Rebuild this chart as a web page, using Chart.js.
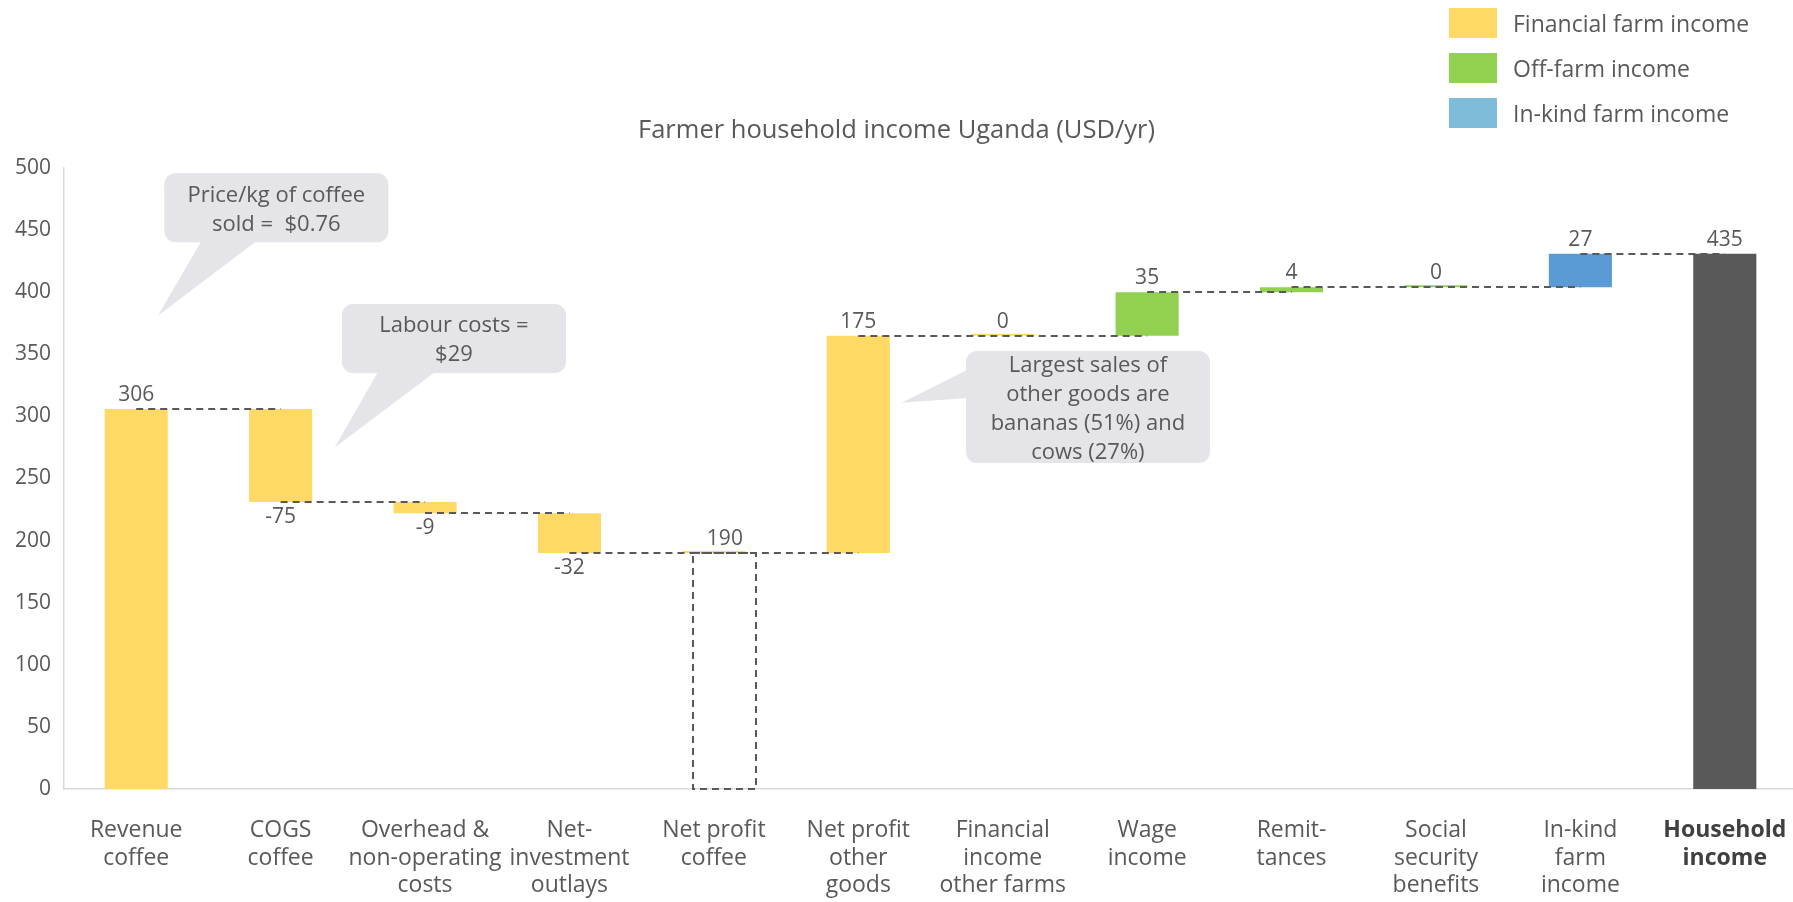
<!DOCTYPE html>
<html>
<head>
<meta charset="utf-8">
<script src="https://cdn.jsdelivr.net/npm/chart.js@4.4.1/dist/chart.umd.min.js"></script>
<style>
    html, body { margin: 0; background: #ffffff; font-family: "Open Sans", sans-serif; overflow: hidden; }
    #wrap { position: relative; width: 1793px; height: 902px; overflow: hidden; }
    #title { position: absolute; left: 0; top: 111px; width: 1793px; text-align: center; font-size: 25.5px; color: #595959; }
    #legend { position: absolute; left: 1449px; top: 8px; }
    .item { display: flex; align-items: center; height: 30px; margin-bottom: 15px; font-size: 23px; color: #595959; }
    .sw { width: 48px; height: 30px; margin-right: 16px; }
</style>
</head>
<body>
<div id="wrap">
    <canvas id="myChart" width="1797" height="902"></canvas>
    <div id="title">Farmer household income Uganda (USD/yr)</div>
    <div id="legend"></div>
</div>
<script>
// Данные графика
const categories = [
    ['Revenue', 'coffee'], ['COGS', 'coffee'], ['Overhead &', 'non-operating', 'costs'],
    ['Net-', 'investment', 'outlays'], ['Net profit', 'coffee'], ['Net profit', 'other', 'goods'],
    ['Financial', 'income', 'other farms'], ['Wage', 'income'], ['Remit-', 'tances'],
    ['Social', 'security', 'benefits'], ['In-kind', 'farm', 'income'], ['Household', 'income']
];
const values = [306, -75, -9, -32, 190, 175, 0, 35, 4, 0, 27, 435];
const barKinds = ['step', 'step', 'step', 'step', 'subtotal', 'step', 'step', 'step', 'step', 'step', 'step', 'total'];
const incomeGroups = ['financial', 'financial', 'financial', 'financial', 'financial', 'financial', 'financial',
    'offfarm', 'offfarm', 'offfarm', 'inkind', 'total'];
const groupKeys = ['financial', 'offfarm', 'inkind'];
const seriesNames = ['Financial farm income', 'Off-farm income', 'In-kind farm income'];
const yTicks = { min: 0, max: 500, step: 50 };

// Цвета
const seriesColors = ['#FFD966', '#92D050', '#5B9BD5'];
const legendColors = ['#FFD966', '#92D050', '#7FBCD9'];
const totalColor = '#595959';
const textColor = '#595959';
const subtotalShift = 11; // пунктирная рамка в оригинале немного сдвинута вправо

// Выноски: позиция в единицах осей (индекс категории, значение)
const callouts = [
    { lines: ['Price/kg of coffee', 'sold =  $0.76'], at: [0.97, 468], w: 224, h: 69,
      tail: { side: 'bottom', from: -75, to: -20, tip: [0.15, 381] } },
    { lines: ['Labour costs =', '$29'], at: [2.2, 362.7], w: 224, h: 69,
      tail: { side: 'bottom', from: -76, to: -19, tip: [1.375, 275] } },
    { lines: ['Largest sales of', 'other goods are', 'bananas (51%) and', 'cows (27%)'], at: [6.59, 307.5], w: 244, h: 112,
      tail: { side: 'left', from: -37, to: -9, tip: [5.30, 311] } }
];

// Расчёт водопада
let run = 0;
const ranges = values.map((v, i) => {
    if (barKinds[i] === 'step') {
        const r = [run, run + v];
        run += v;
        return r;
    }
    return [0, run];
});
const levels = ranges.map(r => r[1]);

const datasets = groupKeys.map((g, k) => ({
    label: seriesNames[k],
    data: ranges.map((r, i) => incomeGroups[i] !== g ? null : (barKinds[i] === 'subtotal' ? [r[1], r[1]] : r)),
    backgroundColor: seriesColors[k]
}));
datasets.push({
    label: 'Household income',
    data: ranges.map((r, i) => barKinds[i] === 'total' ? r : null),
    backgroundColor: totalColor
});
datasets.push({
    label: 'subtotal',
    data: ranges.map((r, i) => barKinds[i] === 'subtotal' ? r : null),
    backgroundColor: 'rgba(0,0,0,0)'
});
const subtotalIndex = datasets.length - 1;

// Легенда
const legend = document.getElementById('legend');
seriesNames.forEach((name, k) => {
    legend.innerHTML += `<div class="item"><div class="sw" style="background:${legendColors[k]}"></div>${name}</div>`;
});

const waterfallPlugin = {
    id: 'waterfall',
    afterDatasetsDraw(chart) {
        const ctx = chart.ctx;
        const xs = chart.scales.x;
        const ys = chart.scales.y;

        // Пунктирный контур промежуточного итога
        ctx.save();
        ctx.strokeStyle = '#595959';
        ctx.lineWidth = 2;
        ctx.setLineDash([7, 5]);
        chart.getDatasetMeta(subtotalIndex).data.forEach((bar, i) => {
            if (barKinds[i] !== 'subtotal') return;
            const p = bar.getProps(['x', 'y', 'base', 'width'], true);
            ctx.strokeRect(Math.round(p.x - p.width / 2 + subtotalShift), Math.round(p.y), Math.round(p.width), Math.round(p.base - p.y));
        });

        // Соединительные линии
        for (let i = 0; i < values.length - 1; i++) {
            const y = Math.round(ys.getPixelForValue(levels[i]));
            ctx.beginPath();
            ctx.moveTo(xs.getPixelForValue(i), y);
            ctx.lineTo(xs.getPixelForValue(i + 1), y);
            ctx.stroke();
        }
        ctx.restore();

        // Подписи значений
        ctx.save();
        ctx.font = '21px "Open Sans"';
        ctx.fillStyle = textColor;
        ctx.textAlign = 'center';
        ctx.textBaseline = 'middle';
        values.forEach((v, i) => {
            let x = xs.getPixelForValue(i);
            let y;
            if (barKinds[i] === 'subtotal') x += subtotalShift;
            if (barKinds[i] === 'step' && v < 0) {
                y = ys.getPixelForValue(ranges[i][1]) + 15;
            } else {
                y = ys.getPixelForValue(Math.max(ranges[i][0], ranges[i][1])) - 14;
            }
            ctx.fillText(String(v), x, y);
        });
        ctx.restore();

        // Выноски
        ctx.save();
        callouts.forEach(c => {
            const cx = xs.getPixelForValue(c.at[0]);
            const cy = ys.getPixelForValue(c.at[1]);
            const left = cx - c.w / 2, top = cy - c.h / 2;
            const tx = xs.getPixelForValue(c.tail.tip[0]);
            const ty = ys.getPixelForValue(c.tail.tip[1]);
            ctx.fillStyle = '#E4E4E9';
            ctx.beginPath();
            ctx.roundRect(left, top, c.w, c.h, 11);
            ctx.fill();
            ctx.beginPath();
            if (c.tail.side === 'bottom') {
                ctx.moveTo(cx + c.tail.from, top + c.h - 1);
                ctx.lineTo(cx + c.tail.to, top + c.h - 1);
            } else {
                ctx.moveTo(left + 1, cy + c.tail.from);
                ctx.lineTo(left + 1, cy + c.tail.to);
            }
            ctx.lineTo(tx, ty);
            ctx.closePath();
            ctx.fill();

            ctx.fillStyle = textColor;
            ctx.font = '22px "Open Sans"';
            ctx.textAlign = 'center';
            ctx.textBaseline = 'middle';
            const lh = 29;
            c.lines.forEach((line, j) => {
                ctx.fillText(line, cx, cy + 2 + (j - (c.lines.length - 1) / 2) * lh);
            });
        });
        ctx.restore();
    }
};

const ctx = document.getElementById('myChart').getContext('2d');
const myChart = new Chart(ctx, {
    type: 'bar',
    data: { labels: categories, datasets: datasets },
    options: {
        responsive: false,
        animation: false,
        layout: { padding: { top: 168, left: 0, right: 0, bottom: 0 } },
        datasets: {
            bar: {
                grouped: false,
                categoryPercentage: 1,
                barPercentage: 0.437,
                minBarLength: 2
            }
        },
        scales: {
            x: {
                // засечки не рисуются, но их длина задаёт отступ подписей
                grid: { display: false, drawTicks: true, tickLength: 28 },
                border: { display: true, color: '#D9D9D9', width: 1.5 },
                ticks: {
                    autoSkip: false,
                    maxRotation: 0,
                    padding: 0,
                    color: (c) => c.index === 11 ? '#404040' : textColor,
                    font: (c) => ({ family: 'Open Sans', size: 23, lineHeight: 1.19, weight: c.index === 11 ? 'bold' : 'normal' })
                },
                afterFit: (scale) => { scale.height = 113; }
            },
            y: {
                min: yTicks.min,
                max: yTicks.max,
                grid: { display: false, drawTicks: false },
                border: { display: true, color: '#D9D9D9', width: 1.5 },
                ticks: {
                    stepSize: yTicks.step,
                    padding: 13,
                    color: textColor,
                    font: { family: 'Open Sans', size: 21 }
                },
                afterFit: (scale) => { scale.width = 64; }
            }
        },
        plugins: {
            legend: { display: false },
            tooltip: { enabled: false }
        }
    },
    plugins: [waterfallPlugin]
});
</script>
</body>
</html>
